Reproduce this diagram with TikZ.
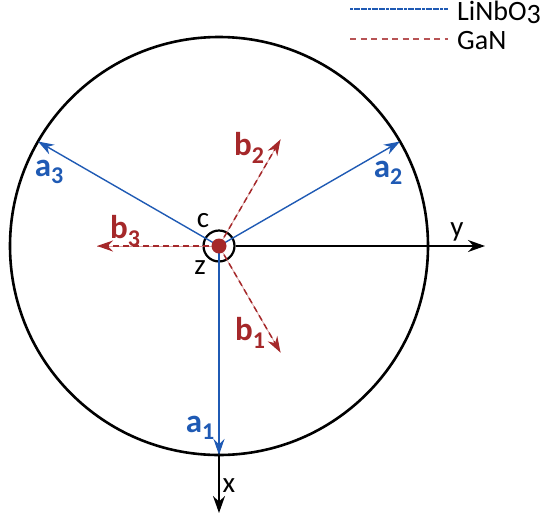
\documentclass[tikz,border=0pt]{standalone}
\usepackage{fontspec}
\setmainfont{Carlito}
\usetikzlibrary{arrows.meta,calc}
\definecolor{lnblue}{RGB}{31,90,180}
\definecolor{ganred}{RGB}{165,40,42}
\newcommand\mysub[1]{\raisebox{-0.45ex}{\fontsize{24}{24}\selectfont #1}}
\begin{document}
\begin{tikzpicture}[x=1pt,y=-1pt,
 avec/.style={lnblue, line width=1.4pt, -{Stealth[length=16pt,width=11pt]}},
 bvec/.style={ganred, line width=1.5pt, dash pattern=on 6pt off 4pt, -{Stealth[length=16pt,width=11pt]}},
 bthin/.style={ganred!45, line width=0.7pt},
 axisarrow/.style={black, line width=1.7pt, -{Stealth[length=17pt,width=12pt]}},
 lab/.style={inner sep=0pt, font=\fontsize{33}{36}\selectfont\bfseries},
 alab/.style={lab, text=lnblue},
 blab/.style={lab, text=ganred},
 axlab/.style={inner sep=0pt, font=\fontsize{29}{32}\selectfont},
 legtext/.style={inner sep=0pt, anchor=base west, font=\fontsize{28}{30}\selectfont},
 legblue/.style={lnblue, line width=1.2pt, dash pattern=on 3pt off 0.6pt},
 legred/.style={ganred!80, line width=1.3pt, dash pattern=on 6pt off 4.5pt}]
\useasboundingbox (0,0) rectangle (543,517);
\coordinate (O) at (219,246);
% big circle
\node[draw, circle, line width=2.6pt, minimum size=418pt, inner sep=0pt] (big) at (O) {};
% ring
\node[draw, circle, line width=2.2pt, minimum size=31pt, inner sep=0pt] (ring) at (O) {};
% axis end coordinates
\coordinate (xend) at (219,513);
\coordinate (yend) at (485,246);
\draw[axisarrow] (ring.south) -- (xend);
\draw[axisarrow] (ring.east) -- (yend);
% a vectors
\coordinate (A1) at ($(O)+(90:209)$);
\coordinate (A2) at ($(O)+(-30:209)$);
\coordinate (A3) at ($(O)+(-150:209)$);
\draw[avec] (O) -- (A1);
\draw[avec] (O) -- (A2);
\draw[avec] (O) -- (A3);
% b vectors
\coordinate (B1) at ($(O)+(60:123)$);
\coordinate (B2) at ($(O)+(-60:123)$);
\coordinate (B3) at ($(O)+(180:122)$);
\draw[bthin] (O) -- (B1);
\draw[bthin] (O) -- (B2);
\draw[bthin] (O) -- (B3);
\draw[bvec] (O) -- (B1);
\draw[bvec] (O) -- (B2);
\draw[bvec] (O) -- (B3);
% dot
\fill[ganred] (O) circle (7.5pt);
% labels
\node[alab] (la1) at (200,428) {a\mysub{1}};
\node[alab] (la2) at (388,173) {a\mysub{2}};
\node[alab] (la3) at (49,172) {a\mysub{3}};
\node[blab] (lb1) at (250,333) {b\mysub{1}};
\node[blab] (lb2) at (249,148) {b\mysub{2}};
\node[blab] (lb3) at (125,231) {b\mysub{3}};
\node[axlab] (lc) at (203,221) {c};
\node[axlab] (lz) at (200,268) {z};
\node[axlab] (ly) at (457,232) {y};
\node[axlab] (lx) at (229,486) {x};
% legend
\coordinate (lb0) at (350,9);
\coordinate (lb1e) at (448,9);
\coordinate (lr0) at (350,39);
\coordinate (lr1e) at (448,39);
\draw[legblue] (lb0) -- (lb1e);
\draw[legred] (lr0) -- (lr1e);
\node[legtext] (t1) at (457,20) {LiNbO\raisebox{-0.25ex}{3}};
\node[legtext] (t2) at (457,49) {GaN};
\end{tikzpicture}
\end{document}
